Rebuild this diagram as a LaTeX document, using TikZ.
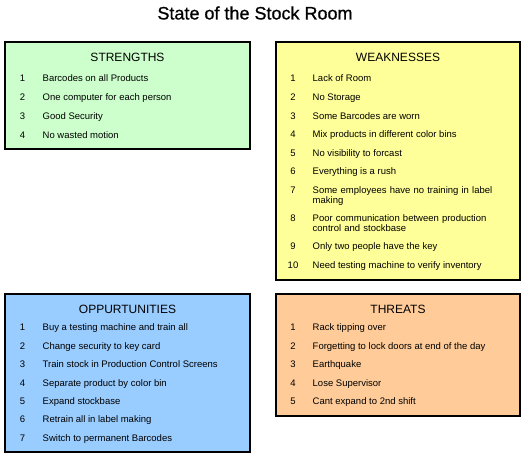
\documentclass[tikz,border=0pt]{standalone}
\usepackage{fontspec}
\setmainfont{Liberation Sans}
\newfontfamily\titlefont[FakeBold=0.8]{Liberation Sans}
\definecolor{sgreen}{HTML}{CCFFCC}
\definecolor{wyellow}{HTML}{FFFF99}
\definecolor{oblue}{HTML}{99CCFF}
\definecolor{torange}{HTML}{FFCC99}
\tikzset{
  panel/.style={draw=black, line width=2.5pt},
  hdr/.style={font=\fontsize{12}{14}\selectfont, inner sep=0pt},
  num/.style={font=\fontsize{9.5}{10}\selectfont, inner sep=0pt, anchor=base},
  itm/.style={font=\fontsize{9.5}{10}\selectfont, inner sep=0pt, anchor=base west},
  itm2/.style={font=\fontsize{9.5}{10}\selectfont, inner sep=0pt, anchor=north west, align=left, text width=190pt},
}
\begin{document}
\begin{tikzpicture}[x=1pt,y=-1pt]
\useasboundingbox (0,0) rectangle (525,458);
\node[font=\titlefont\fontsize{18}{20}\selectfont, inner sep=0pt] (title) at (255,13) {State of the Stock Room};

% Strengths
\filldraw[panel, fill=sgreen] (5,42) rectangle (250,149);
\node[hdr] (sh) at (127.5,57) {STRENGTHS};
\foreach \n/\y/\t in {1/78/Barcodes on all Products, 2/97/One computer for each person, 3/116/Good Security, 4/135/No wasted motion}{
  \node[num] (sn\n) at (22.5,\y+3.5) {\n};
  \node[itm] (s\n) at (42.5,\y+3.5) {\t};
}

% Weaknesses
\filldraw[panel, fill=wyellow] (276,42) rectangle (520,280);
\node[hdr] (wh) at (398,57) {WEAKNESSES};
\foreach \n/\y/\t in {1/78/Lack of Room, 2/97/No Storage, 3/116/Some Barcodes are worn, 4/134/Mix products in different color bins, 5/153/No visibility to forcast, 6/171/Everything is a rush, 9/246/Only two people have the key, 10/265/Need testing machine to verify inventory}{
  \node[num] (wn\n) at (293,\y+3.5) {\n};
  \node[itm] (w\n) at (312.5,\y+3.5) {\t};
}
\node[num] (wn7) at (293,193.5) {7};
\node[itm2] (w7) at (312.5,186.6) {Some employees have no training in label\\making};
\node[num] (wn8) at (293,221.5) {8};
\node[itm2] (w8) at (312.5,214.6) {Poor communication between production\\control and stockbase};

% Opportunities
\filldraw[panel, fill=oblue] (5,294) rectangle (250,452);
\node[hdr] (oh) at (127.5,309) {OPPURTUNITIES};
\foreach \n/\y/\t in {1/327/Buy a testing machine and train all, 2/346/Change security to key card, 3/364/Train stock in Production Control Screens, 4/383/Separate product by color bin, 5/401/Expand stockbase, 6/419/Retrain all in label making, 7/438/Switch to permanent Barcodes}{
  \node[num] (on\n) at (22.5,\y+3.5) {\n};
  \node[itm] (o\n) at (42.5,\y+3.5) {\t};
}

% Threats
\filldraw[panel, fill=torange] (276,294) rectangle (520,416);
\node[hdr] (th) at (398,309) {THREATS};
\foreach \n/\y/\t in {1/327/Rack tipping over, 2/346/Forgetting to lock doors at end of the day, 3/364/Earthquake, 4/383/Lose Supervisor, 5/401/Cant expand to 2nd shift}{
  \node[num] (tn\n) at (293,\y+3.5) {\n};
  \node[itm] (t\n) at (312.5,\y+3.5) {\t};
}
\end{tikzpicture}
\end{document}
